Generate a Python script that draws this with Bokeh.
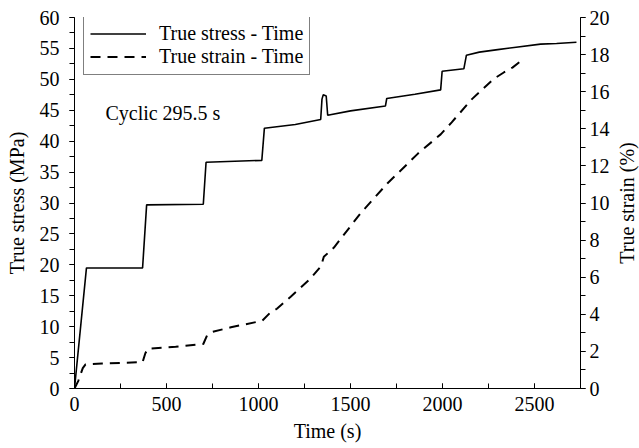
import math
from bokeh.plotting import figure
from bokeh.layouts import row
from bokeh.models import (Range1d, LinearAxis, SingleIntervalTicker, Legend,
                          LegendItem, Label)
from bokeh.embed import file_html
from bokeh.resources import INLINE

# ---- data ----
stress_time = [0, 65, 370, 392, 700, 715, 1018, 1032, 1200, 1338, 1345, 1352,
               1368, 1376, 1500, 1690, 1697, 1850, 1990, 1998, 2116, 2130,
               2200, 2300, 2400, 2533, 2620, 2728]
stress_mpa = [0, 19.5, 19.5, 29.7, 29.8, 36.6, 36.9, 42.1, 42.7, 43.5, 46.8,
              47.5, 47.3, 44.2, 44.9, 45.7, 46.9, 47.6, 48.3, 51.3, 51.7,
              53.9, 54.4, 54.8, 55.2, 55.7, 55.8, 56.0]

strain_time = [0, 20, 45, 60, 150, 370, 385, 400, 550, 700, 720, 750, 850,
               1020, 1060, 1100, 1175, 1280, 1340, 1355, 1410, 1555, 1700,
               1865, 1990, 2050, 2160, 2280, 2335, 2380, 2432]
strain_pct = [0, 0.4, 1.1, 1.3, 1.35, 1.42, 1.9, 2.15, 2.25, 2.4, 2.85, 3.05,
              3.3, 3.65, 4.05, 4.3, 4.95, 5.9, 6.6, 7.1, 7.6, 9.45, 11.05,
              12.65, 13.7, 14.35, 15.6, 16.7, 17.05, 17.3, 17.7]

FONT = "Liberation Serif"
FS = "20px"

fig = figure(width=613, height=448, output_backend="svg", toolbar_location=None,
             x_range=Range1d(0, 2750), y_range=Range1d(0, 60),
             min_border_left=74, min_border_right=33, min_border_top=17,
             min_border_bottom=60)
fig.extra_y_ranges = {"strain": Range1d(0, 20)}
fig.outline_line_color = None
fig.xgrid.visible = False
fig.ygrid.visible = False
fig.background_fill_color = "white"
fig.border_fill_color = "white"

r1 = fig.line(stress_time, stress_mpa, line_color="black", line_width=1.6)
r2 = fig.line(strain_time, strain_pct, line_color="black", line_width=2,
              line_dash="10 7", y_range_name="strain")

xa = fig.xaxis[0]
xa.ticker = SingleIntervalTicker(interval=500, num_minor_ticks=2)
xa.axis_label = "Time (s)"
xa.major_tick_in = 5
xa.major_tick_out = 0
xa.minor_tick_in = 5
xa.minor_tick_out = 0
xa.major_label_standoff = 8
xa.axis_label_standoff = 6

ya = fig.yaxis[0]
ya.ticker = SingleIntervalTicker(interval=5, num_minor_ticks=2)
ya.axis_label = "True stress (MPa)"
ya.major_tick_in = 0
ya.major_tick_out = 5
ya.minor_tick_in = 0
ya.minor_tick_out = 5
ya.major_label_standoff = 10
ya.axis_label_standoff = 9

ra = LinearAxis(y_range_name="strain",
                ticker=SingleIntervalTicker(interval=2, num_minor_ticks=2))
ra.major_tick_in = 0
ra.major_tick_out = 5
ra.minor_tick_in = 0
ra.minor_tick_out = 5
ra.major_label_standoff = 4
fig.add_layout(ra, "right")

for ax in [xa, ya, ra]:
    ax.axis_line_color = "black"
    ax.major_tick_line_color = "black"
    ax.minor_tick_line_color = "black"
    ax.axis_label_text_font = FONT
    ax.axis_label_text_font_size = FS
    ax.axis_label_text_font_style = "normal"
    ax.axis_label_text_color = "black"
    ax.major_label_text_font = FONT
    ax.major_label_text_font_size = FS
    ax.major_label_text_color = "black"

legend = Legend(items=[LegendItem(label="True stress - Time", renderers=[r1]),
                       LegendItem(label="True strain - Time", renderers=[r2])],
                location=(9, 313))
legend.label_text_font = FONT
legend.label_text_font_size = FS
legend.label_text_color = "black"
legend.glyph_width = 56
legend.label_standoff = 13
legend.padding = 6
legend.spacing = 0
legend.label_height = 21
legend.glyph_height = 21
legend.margin = 0
legend.border_line_color = "black"
legend.border_line_width = 1.2
fig.add_layout(legend)

fig.add_layout(Label(x=168, y=44.5, text="Cyclic 295.5 s", text_font=FONT,
                     text_font_size=FS, text_color="black",
                     text_baseline="alphabetic"))

# narrow side panel holding the right axis title (reads bottom-to-top)
side = figure(width=26, height=448, output_backend="svg", toolbar_location=None,
              x_range=Range1d(0, 1), y_range=Range1d(0, 20),
              x_axis_type=None, y_axis_type=None,
              min_border_left=0, min_border_right=0, min_border_top=17,
              min_border_bottom=60)
side.outline_line_color = None
side.xgrid.visible = False
side.ygrid.visible = False
side.add_layout(Label(x=0.5, y=10, text="True strain (%)", angle=math.pi / 2,
                      text_align="center", text_baseline="middle",
                      text_font=FONT, text_font_size=FS, text_color="black"))

p = row(fig, side)

open("out.html", "w").write(file_html(p, INLINE))
